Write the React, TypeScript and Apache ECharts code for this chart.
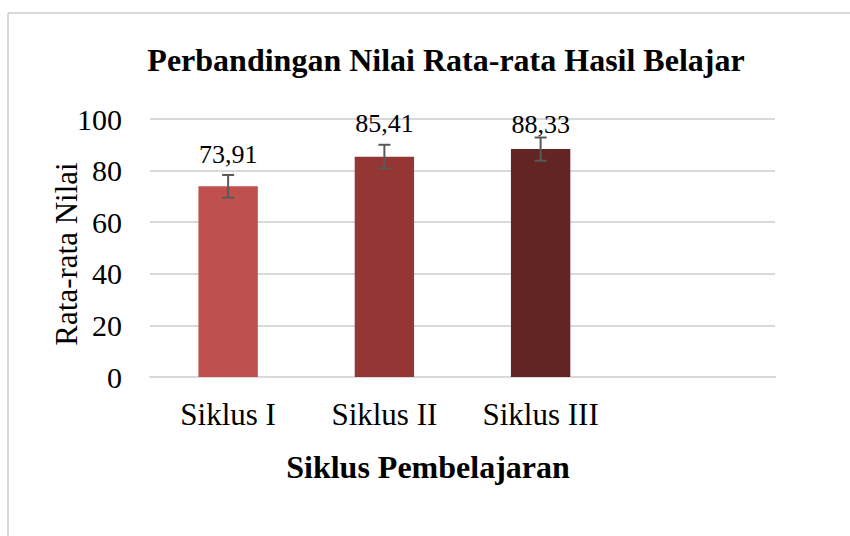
import React, { useEffect, useRef } from "react";
import * as echarts from "echarts";

const categories = ["Siklus I", "Siklus II", "Siklus III", ""];
const values = [73.91, 85.41, 88.33];
const errors = [4.4, 4.6, 4.5];
const barColors = ["#c0504d", "#943634", "#632523"];
const labelDistances = [19, 20, 12];
const yTicks = { min: 0, max: 100, interval: 20 };
const titleText = "Perbandingan Nilai Rata-rata Hasil Belajar";
const xName = "Siklus Pembelajaran";
const yName = "Rata-rata Nilai";

const FONT = "'Liberation Serif', 'Times New Roman', serif";

export default function App() {
  const ref = useRef<HTMLDivElement>(null);
  useEffect(() => {
    if (!ref.current) return;
    const chart = echarts.init(ref.current, undefined, { renderer: "svg" });
    const option: any = {
      animation: false,
      backgroundColor: "#ffffff",
      textStyle: { fontFamily: FONT },
      grid: { left: 150, right: 75, top: 119, bottom: 159 },
      graphic: [
        { type: "line", shape: { x1: 8, y1: 13, x2: 850, y2: 13 }, style: { stroke: "#d9d9d9", lineWidth: 2 } },
        { type: "line", shape: { x1: 8, y1: 13, x2: 8, y2: 536 }, style: { stroke: "#d9d9d9", lineWidth: 2 } },
        {
          type: "text",
          x: 446,
          y: 60,
          style: {
            text: titleText,
            font: `bold 32px ${FONT}`,
            fill: "#000",
            textAlign: "center",
            textVerticalAlign: "middle",
          },
        },
        {
          type: "text",
          x: 428,
          y: 467,
          style: {
            text: xName,
            font: `bold 32px ${FONT}`,
            fill: "#000",
            textAlign: "center",
            textVerticalAlign: "middle",
          },
        },
        {
          type: "text",
          x: 66,
          y: 254,
          rotation: Math.PI / 2,
          style: {
            text: yName,
            font: `31px ${FONT}`,
            fill: "#000",
            textAlign: "center",
            textVerticalAlign: "middle",
          },
        },
      ],
      xAxis: {
        type: "category",
        data: categories,
        axisLine: { show: true, lineStyle: { color: "#d9d9d9", width: 2 } },
        axisTick: { show: false },
        axisLabel: { color: "#000", fontSize: 31, fontFamily: FONT, margin: 22, interval: 0 },
      },
      yAxis: {
        type: "value",
        min: yTicks.min,
        max: yTicks.max,
        interval: yTicks.interval,
        axisLine: { show: false },
        axisTick: { show: false },
        splitLine: { lineStyle: { color: "#d9d9d9", width: 2 } },
        axisLabel: { color: "#000", fontSize: 30, fontFamily: FONT, margin: 28 },
      },
      series: [
        {
          type: "bar",
          barWidth: "38%",
          data: values.map((v, i) => ({
            value: v,
            itemStyle: { color: barColors[i] },
            label: { distance: labelDistances[i] },
          })),
          label: {
            show: true,
            position: "top",
            color: "#000",
            fontSize: 26,
            fontFamily: FONT,
            formatter: (p: any) => p.value.toFixed(2).replace(".", ","),
          },
        },
        {
          type: "custom",
          z: 5,
          data: values.map((v, i) => [i, v, errors[i]]),
          encode: { x: 0, y: 1 },
          renderItem: (params: any, api: any) => {
            const i = api.value(0);
            const v = api.value(1);
            const e = api.value(2);
            const top = api.coord([i, v + e]);
            const bot = api.coord([i, v - e]);
            const hw = 6;
            const st = { stroke: "#595959", lineWidth: 2 };
            return {
              type: "group",
              children: [
                { type: "line", shape: { x1: top[0], y1: top[1], x2: bot[0], y2: bot[1] }, style: st },
                { type: "line", shape: { x1: top[0] - hw, y1: top[1], x2: top[0] + hw, y2: top[1] }, style: st },
                { type: "line", shape: { x1: bot[0] - hw, y1: bot[1], x2: bot[0] + hw, y2: bot[1] }, style: st },
              ],
            };
          },
        },
      ],
    };
    chart.setOption(option);
    return () => chart.dispose();
  }, []);
  return (
    <div
      ref={ref}
      style={{ position: "fixed", left: 0, top: 0, width: 850, height: 536 }}
    />
  );
}
